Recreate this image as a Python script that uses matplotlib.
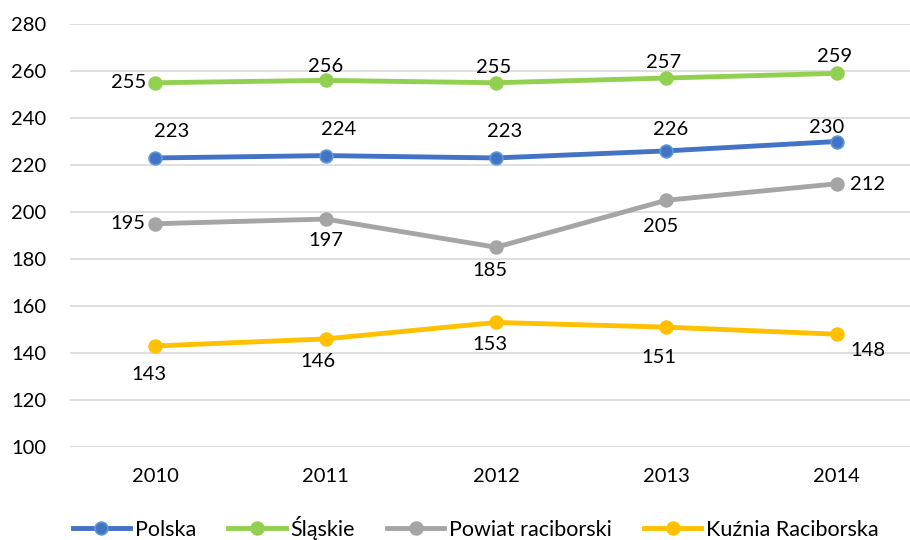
import matplotlib.pyplot as plt

plt.rcParams['font.family'] = ['Lato', 'DejaVu Sans']
plt.rcParams['font.size'] = 14.5

years = ["2010", "2011", "2012", "2013", "2014"]
polska = [223, 224, 223, 226, 230]
slaskie = [255, 256, 255, 257, 259]
powiat = [195, 197, 185, 205, 212]
kuznia = [143, 146, 153, 151, 148]

series = [
    ("Polska", polska, "#4472C4", "#5B9BD5",
     [(16, 26), (13, 26), (9, 26), (4, 21), (-10, 14)]),
    ("Śląskie", slaskie, "#92D050", "#92D050",
     [(-27, 0), (0, 14), (-2, 15), (-3, 16), (-2, 17)]),
    ("Powiat raciborski", powiat, "#A5A5A5", "#A5A5A5",
     [(-27, 0), (0, -21), (-6, -23), (-6, -26), (31, -1)]),
    ("Kuźnia Raciborska", kuznia, "#FFC000", "#FFC000",
     [(-6, -29), (-8, -23), (-6, -22), (-8, -30), (31, -16)]),
]

fig = plt.figure(figsize=(9.1, 5.4), dpi=100)
ax = fig.add_axes([70 / 910, 93 / 540, 852 / 910, 423 / 540])

x = list(range(len(years)))
for name, vals, color, edge, offs in series:
    ax.plot(x, vals, color=color, lw=3.5, marker="o", ms=9.2,
            markerfacecolor=color, markeredgecolor=edge, markeredgewidth=1.2,
            label=name, zorder=3)
    for xi, v, (dx, dy) in zip(x, vals, offs):
        ax.annotate(str(v), (xi, v), xytext=(dx, dy), textcoords="offset pixels",
                    ha="center", va="center", fontsize=14.5, color="#000000")

ax.set_xlim(-0.5, 4.5)
ax.set_ylim(100, 280)
ax.set_yticks(range(100, 281, 20))
ax.set_xticks(x)
ax.set_xticklabels(years)
ax.grid(axis="y", color="#D9D9D9", lw=1.2)
ax.set_axisbelow(True)
for s in ax.spines.values():
    s.set_visible(False)
ax.tick_params(axis="both", length=0, colors="#000000")
ax.tick_params(axis="y", pad=17)
ax.tick_params(axis="x", pad=15)

fig.legend(loc="center", bbox_to_anchor=(476 / 910, 12 / 540), ncol=4, frameon=False,
           handlelength=2.65, handletextpad=0.23, columnspacing=1.5, fontsize=15.5)

fig.savefig("out.png", dpi=100)
